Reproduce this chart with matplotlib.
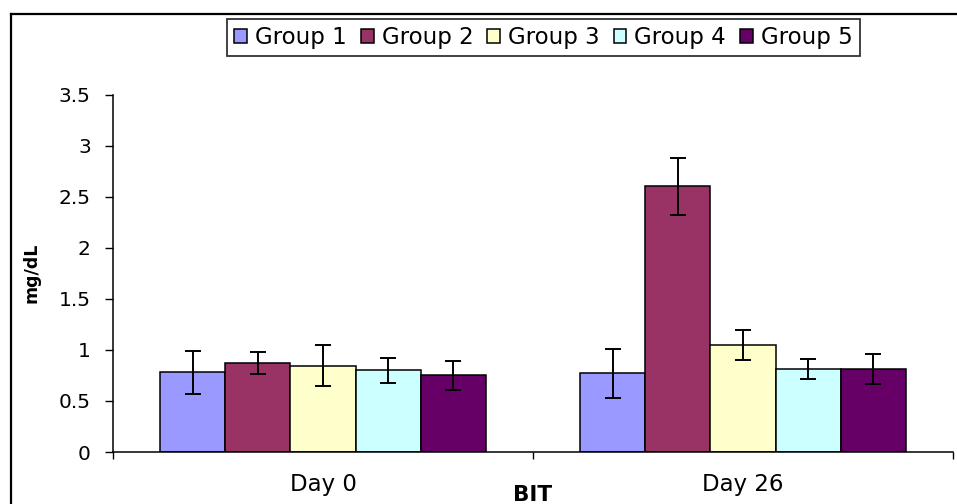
import numpy as np
import matplotlib.pyplot as plt
from matplotlib.lines import Line2D

plt.rcParams['font.family'] = ['DejaVu Sans']

# datos
dias = ['Day 0', 'Day 26']
grupos = ['Group 1', 'Group 2', 'Group 3', 'Group 4', 'Group 5']
colores = ['#9999FF', '#993366', '#FFFFCC', '#CCFFFF', '#660066']

medias = {
    'Group 1': [0.78, 0.77],
    'Group 2': [0.87, 2.60],
    'Group 3': [0.845, 1.05],
    'Group 4': [0.80, 0.815],
    'Group 5': [0.75, 0.815],
}
errores = {
    'Group 1': [0.21, 0.24],
    'Group 2': [0.11, 0.28],
    'Group 3': [0.20, 0.145],
    'Group 4': [0.12, 0.10],
    'Group 5': [0.14, 0.145],
}

fig = plt.figure(figsize=(9.57, 5.04), dpi=100)
ax = fig.add_axes([113/957, 52/504, 840/957, (452-94.5)/504])

x = np.arange(len(dias)) + 0.5
ancho = 0.155
for j, g in enumerate(grupos):
    ax.bar(x + (j - 2) * ancho, medias[g], ancho, color=colores[j],
           edgecolor='black', linewidth=1.1, label=g, zorder=2)
    ax.errorbar(x + (j - 2) * ancho, medias[g], yerr=errores[g], fmt='none',
                ecolor='black', elinewidth=1.4, capsize=6, capthick=1.4, zorder=3)

ax.set_xlim(0, 2)
ax.set_ylim(0, 3.5)
ax.set_yticks(np.arange(0, 3.51, 0.5))
ax.set_yticklabels(['0', '0.5', '1', '1.5', '2', '2.5', '3', '3.5'])
ax.set_xticks([0, 1, 2])
ax.set_xticklabels(['', '', ''])
ax.set_xticks(x, minor=True)
ax.set_xticklabels(dias, minor=True, fontsize=16.5)
ax.tick_params(axis='x', which='minor', length=0, pad=15)
ax.tick_params(axis='x', which='major', length=5, width=1, direction='out')
ax.tick_params(axis='y', length=6, width=1, direction='out', pad=10, labelsize=14.5)

for s in ['top', 'right']:
    ax.spines[s].set_visible(False)
for s in ['left', 'bottom']:
    ax.spines[s].set_linewidth(1.1)

ax.set_ylabel('mg/dL', fontsize=12.5, fontweight='bold')
ax.yaxis.set_label_coords(-73/840, 0.5)
fig.text(533/957, 1 - 495/504, 'BIT', fontsize=15.5, fontweight='bold',
         ha='center', va='center')

leg = fig.legend(loc='upper center', bbox_to_anchor=(543.5/957, 1 - 19/504),
                 ncol=5, fontsize=16.5, frameon=True, fancybox=False,
                 handlelength=0.55, handleheight=0.55, handletextpad=0.35,
                 columnspacing=0.62, borderpad=0.3, borderaxespad=0)
leg.get_frame().set_edgecolor('black')
leg.get_frame().set_linewidth(1.3)

# marco exterior (solo se ven el borde superior y el izquierdo)
y_top = 1 - 14/504
x_izq = 11/957
fig.lines.append(Line2D([x_izq, 1.05], [y_top, y_top], color='black', linewidth=1.6,
                        transform=fig.transFigure, figure=fig))
fig.lines.append(Line2D([x_izq, x_izq], [-0.05, y_top], color='black', linewidth=1.6,
                        transform=fig.transFigure, figure=fig))

fig.savefig('out.png', dpi=100)
